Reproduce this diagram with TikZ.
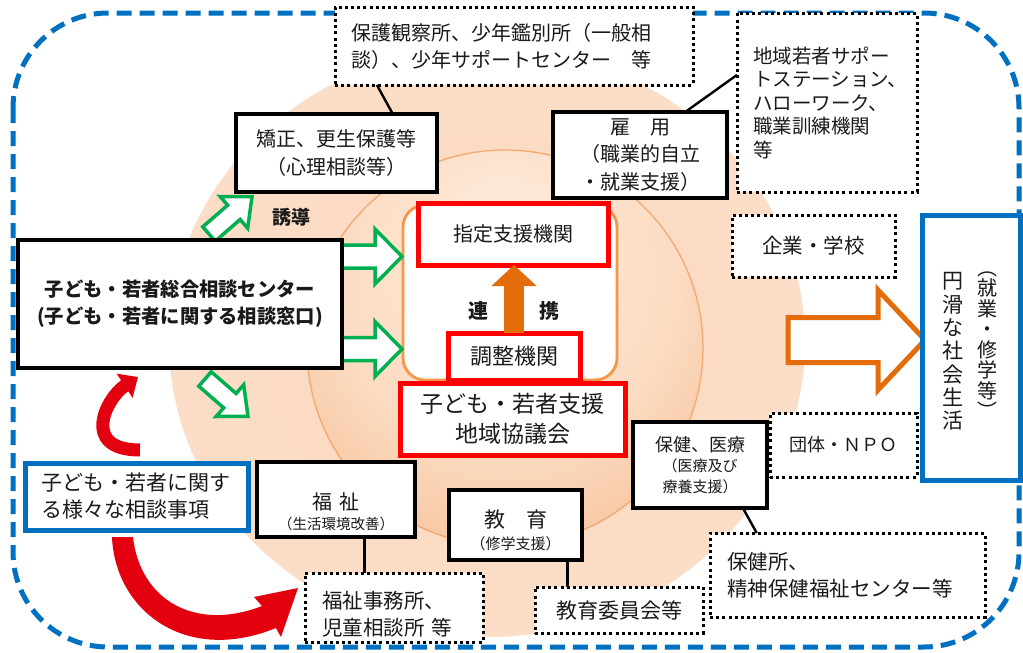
\documentclass[tikz,border=0pt]{standalone}
\usepackage{fontspec}
\setmainfont{Noto Sans CJK JP}
\usetikzlibrary{arrows.meta,calc}
\definecolor{cRed}{HTML}{FF0000}
\definecolor{cRedA}{HTML}{E3000F}
\definecolor{cGreen}{HTML}{00B050}
\definecolor{cOrange}{HTML}{E46C0A}
\definecolor{cOrangeL}{HTML}{F79646}
\definecolor{cCircle}{HTML}{F2A970}
\definecolor{cBlue}{HTML}{0070C0}
\definecolor{cText}{HTML}{1A1A1A}
\pgfdeclareradialshading{outersh}{\pgfpoint{0bp}{0bp}}{rgb(0bp)=(0.98,0.84,0.74); rgb(30bp)=(0.985,0.875,0.79); rgb(50bp)=(0.99,0.92,0.87)}
\pgfdeclareradialshading{midsh}{\pgfpoint{0bp}{16bp}}{rgb(0bp)=(0.995,0.925,0.87); rgb(22bp)=(0.985,0.86,0.76); rgb(50bp)=(0.95,0.64,0.41)}
\newcommand\jfs[2]{\fontsize{#1}{#2}\selectfont}
\tikzset{
  pics/blockarrow/.style n args={4}{code={
    \path[pic actions] (0,-#4) -- ({#1-#2},-#4) -- ({#1-#2},-#3) -- (#1,0) -- ({#1-#2},#3) -- ({#1-#2},#4) -- (0,#4) -- cycle;}},
  boxbase/.style={anchor=north west, inner sep=0pt, outer sep=0pt, fill=white, text=cText, align=center},
  blkbox/.style={boxbase, draw=black, line width=4.3pt},
  redbox/.style={boxbase, draw=cRed, line width=5pt},
  dotbox/.style={boxbase, draw=black, line width=3pt, dash pattern=on 3pt off 3.2pt},
  bluebox/.style={boxbase, draw=cBlue, line width=5pt},
  conn/.style={draw=black, line width=2.4pt},
  ga/.style={draw=cGreen, fill=white, line width=3.5pt, line join=miter},
  oa/.style={draw=cOrange, fill=white, line width=5pt, line join=miter},
  sz/.style 2 args={minimum width=#1pt, minimum height=#2pt}
}
\begin{document}
\begin{tikzpicture}[x=1pt,y=-1pt]
\useasboundingbox (0,0) rectangle (1023,653);
\fill[white] (0,0) rectangle (1023,653);

% background rings
\shade[shading=outersh] (487,342) ellipse [x radius=318, y radius=295];
\shade[shading=midsh] (505,348) circle [radius=198];
\draw[cCircle, line width=1.3pt] (505,348) circle [radius=198];

% dashed outer frame
\draw[cBlue, line width=5pt, dash pattern=on 15pt off 8pt, rounded corners=95pt] (13,13) rectangle (1019,647);

% inner rounded frame
\node[boxbase, draw=cOrangeL, line width=2.8pt, rounded corners=22pt, sz={214}{175}] (core) at (403,205) {};

% block arrows
\pic[ga] at (340,256.5) {blockarrow={62}{27}{27.5}{11.5}};
\pic[ga] at (340,349) {blockarrow={62}{27}{27.5}{11.5}};
\pic[ga, rotate=41] at (209,234) {blockarrow={57}{24}{21}{9.5}};
\pic[ga, rotate=-41] at (205,379) {blockarrow={57}{24}{21}{9.5}};
\pic[oa] at (788,340) {blockarrow={137}{47}{50}{22.5}};

% boxes
\node[dotbox, sz={358}{78}, text width=326pt, align=left, font=\jfs{20}{27}] (hogo) at (335,7)
  {保護観察所、少年鑑別所（一般相\\談）、少年サポートセンター　等};
\node[dotbox, sz={180}{179}, text width=148pt, align=left, font=\jfs{19.5}{23.5}] (chiiki) at (737,13)
  {地域若者サポー\\トステーション、\\ハローワーク、\\職業訓練機関\\等};
\node[blkbox, sz={201}{78}, font=\jfs{20}{28}] (kyosei) at (236,114) {矯正、更生保護等\\（心理相談等）};
\node[blkbox, sz={174}{86}, font=\jfs{20}{27.5}] (koyo) at (553,112) {雇　用\\（職業的自立\\・就業支援）};
\node[blkbox, sz={324}{128}, font=\bfseries\jfs{19.3}{27}] (ctr) at (18,240)
  {子ども・若者総合相談センター\\(子ども・若者に関する相談窓口)};
\node[font=\bfseries\jfs{19}{22}, text=cText] (yudo) at (291,217) {誘導};

\node[redbox, sz={190}{62}, font=\jfs{20}{24}] (shitei) at (418,203) {指定支援機関};
\node[redbox, sz={132}{47}, font=\jfs{22}{26}] (chosei) at (448,333) {調整機関};
\node[redbox, sz={225}{72}, font=\jfs{23}{30}] (kyogi) at (400,383) {子ども・若者支援\\地域協議会};
\node[font=\bfseries\jfs{20}{24}, text=cText] (ren) at (478,311) {連};
\node[font=\bfseries\jfs{20}{24}, text=cText] (kei) at (549,311) {携};
\draw[cOrange, line width=20pt, -{Triangle[length=21pt,width=44pt]}] (chosei.north) -- (chosei.north |- shitei.south);

\node[dotbox, sz={163}{62}, font=\jfs{20.5}{24}] (kigyo) at (732,215) {企業・学校};
\node[dotbox, sz={147}{64}, font=\jfs{18}{22}] (dantai) at (770,413) {団体・ＮＰＯ};
\node[bluebox, sz={98}{265}] (goal) at (922,215) {};
\node[font=\jfs{21}{23.3}, align=center, inner sep=0pt, text=cText] (goalA) at (953,351.5) {円\\滑\\な\\社\\会\\生\\活};
\node[font=\jfs{20}{20.5}, align=center, inner sep=0pt, text=cText] (goalB) at (987,345) {︵\\就\\業\\・\\修\\学\\等\\︶};

\node[bluebox, sz={223}{67}, text width=190pt, align=left, font=\jfs{21}{27}] (sodan) at (25,463)
  {子ども・若者に関す\\る様々な相談事項};
\node[blkbox, sz={158}{75}, font=\jfs{20}{20}] (fukushi) at (257,462)
  {\rule{0pt}{42pt}福\hspace{8pt}祉\\{\jfs{14.5}{20}（生活環境改善）}};
\node[blkbox, sz={133}{70}, font=\jfs{21}{22}] (kyoiku) at (449,490)
  {\rule{0pt}{28pt}教　育\\{\jfs{15}{22}（修学支援）}};
\node[blkbox, sz={134}{86}, font=\jfs{15}{20.5}] (hoken) at (633,422)
  {{\jfs{18}{20.5}保健、医療}\\（医療及び\\療養支援）};
\node[dotbox, sz={178}{69}, text width=144pt, align=left, font=\jfs{20.5}{27}] (fj) at (305,573)
  {\rule{0pt}{30pt}福祉事務所、\\児童相談所 等};
\node[dotbox, sz={168}{46}, font=\jfs{21}{24}] (kiin) at (535,587) {教育委員会等};
\node[dotbox, sz={275}{84}, text width=241pt, align=left, font=\jfs{20.5}{27}] (hokensho) at (710,533)
  {保健所、\\精神保健福祉センター等};

% connectors
\draw[conn] ($(hogo.south west)!0.117!(hogo.south east)$) -- ($(kyosei.north west)!0.78!(kyosei.north east)$);
\draw[conn] ($(koyo.north west)!0.76!(koyo.north east)$) -- ($(chiiki.north west)!0.346!(chiiki.south west)$);
\draw[conn] ($(fukushi.south west)!0.68!(fukushi.south east)$) coordinate (f1) -- (f1 |- fj.north);
\draw[conn] ($(kyoiku.south west)!0.89!(kyoiku.south east)$) coordinate (k1) -- (k1 |- kiin.north);
\draw[conn] ($(hoken.south west)!0.82!(hoken.south east)$) -- ($(hokensho.north west)!0.17!(hokensho.north east)$);

% red curved arrows
\coordinate (cs) at ($(sodan.north west)+(115,-13)$);
\coordinate (ce) at ($(ctr.south west)+(120,9)$);
\draw[cRedA, line width=13pt, -{Triangle[length=16pt,width=28pt]}] (cs) .. controls (80,450) and (106,398) .. (ce);
\fill[cRedA] (112,537) .. controls (115,610) and (185,665) .. (276,628)
  -- (281,637) -- (298,588) -- (254,597) -- (262,606)
  .. controls (195,632) and (140,600) .. (133,537) -- cycle;
\end{tikzpicture}
\end{document}
